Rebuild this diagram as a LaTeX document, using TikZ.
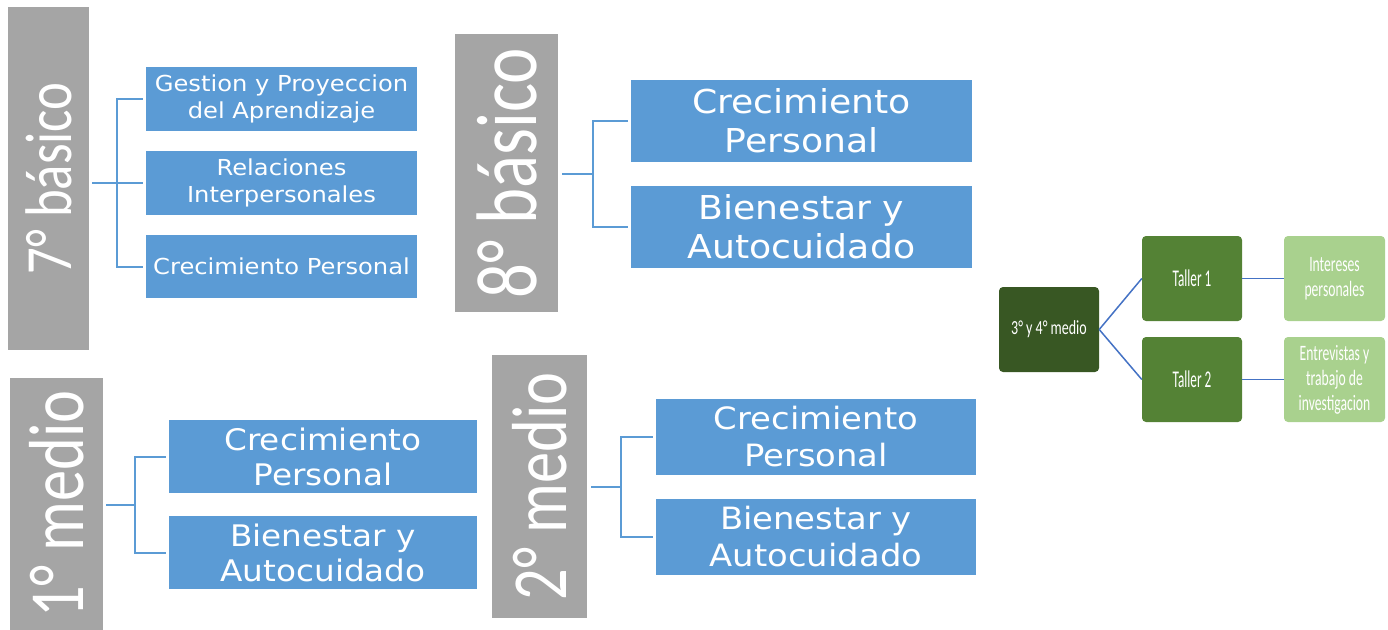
\documentclass[tikz,border=0pt]{standalone}
\usepackage{fontspec}
\newfontfamily\bluefont{DejaVu Sans}[FakeStretch=1.1]
\newfontfamily\grayfont{Carlito}[FakeStretch=0.8]
\newfontfamily\gdfont{Carlito}[FakeStretch=0.7]
\newfontfamily\gmfont{Carlito}[FakeStretch=0.55]
\newfontfamily\glfont{Carlito}[FakeStretch=0.62]
\definecolor{grayc}{HTML}{A5A5A5}
\definecolor{bluec}{HTML}{5B9BD5}
\definecolor{dgreen}{HTML}{385723}
\definecolor{mgreen}{HTML}{548235}
\definecolor{lgreen}{HTML}{A9D18E}
\definecolor{linec}{HTML}{4472C4}
\begin{document}
\begin{tikzpicture}[x=1pt,y=-1pt,
  graybox/.style={fill=grayc, text=white, inner sep=0pt, rotate=90},
  bluebox/.style={fill=bluec, text=white, inner sep=0pt, align=center},
  conn/.style={draw=bluec, line width=2pt},
  gconn/.style={draw=linec, line width=1.5pt},
  greenbox/.style={rounded corners=4pt, inner sep=0pt, text=white, align=center, minimum height=85pt},
  f7/.style={font=\bluefont\fontsize{22}{27}\selectfont},
  f8/.style={font=\bluefont\fontsize{32.9}{39}\selectfont},
  f1/.style={font=\bluefont\fontsize{29.7}{35}\selectfont},
  f2/.style={font=\bluefont\fontsize{30.75}{37}\selectfont}
]
\useasboundingbox (0,0) rectangle (1388,629);

% 7 basico
\node[graybox, minimum width=343pt, minimum height=81pt, font=\grayfont\fontsize{66}{70}\selectfont] (g7) at (48.5,178.5) {7° básico};
\node[bluebox, f7, minimum width=271pt, minimum height=64pt] (b71) at (281.5,99) {Gestion y Proyeccion\\del Aprendizaje};
\node[bluebox, f7, minimum width=271pt, minimum height=64pt] (b72) at (281.5,183) {Relaciones\\Interpersonales};
\node[bluebox, f7, minimum width=271pt, minimum height=63pt] (b73) at (281.5,266.5) {Crecimiento Personal};
\coordinate (j7) at (117,183);
\draw[conn, shorten <=3pt] (g7.south |- j7) -- (j7);
\draw[conn, shorten >=3pt] (j7) |- (b71.west);
\draw[conn, shorten >=3pt] (j7) -- (b72.west);
\draw[conn, shorten >=3pt] (j7) |- (b73.west);

% 8 basico
\node[graybox, minimum width=278pt, minimum height=103pt, font=\grayfont\fontsize{86}{90}\selectfont] (g8) at (506.5,173) {8° básico};
\node[bluebox, f8, minimum width=341pt, minimum height=82pt] (b81) at (801.5,121) {Crecimiento\\Personal};
\node[bluebox, f8, minimum width=341pt, minimum height=82pt] (b82) at (801.5,227) {Bienestar y\\Autocuidado};
\coordinate (j8) at (593,174);
\draw[conn, shorten <=4pt] (g8.south |- j8) -- (j8);
\draw[conn, shorten >=3pt] (j8) |- (b81.west);
\draw[conn, shorten >=3pt] (j8) |- (b82.west);

% 1 medio
\node[graybox, minimum width=252pt, minimum height=93pt, font=\grayfont\fontsize{78}{82}\selectfont] (g1) at (56.5,504) {1° medio};
\node[bluebox, f1, minimum width=308pt, minimum height=73pt] (b11) at (323,456.5) {Crecimiento\\Personal};
\node[bluebox, f1, minimum width=308pt, minimum height=73pt] (b12) at (323,552.5) {Bienestar y\\Autocuidado};
\coordinate (j1) at (135,505);
\draw[conn, shorten <=3pt] (g1.south |- j1) -- (j1);
\draw[conn, shorten >=3pt] (j1) |- (b11.west);
\draw[conn, shorten >=3pt] (j1) |- (b12.west);

% 2 medio
\node[graybox, minimum width=263pt, minimum height=95pt, font=\grayfont\fontsize{78}{82}\selectfont] (g2) at (539.5,486.5) {2° medio};
\node[bluebox, f2, minimum width=320pt, minimum height=76pt] (b21) at (816,437) {Crecimiento\\Personal};
\node[bluebox, f2, minimum width=320pt, minimum height=76pt] (b22) at (816,537) {Bienestar y\\Autocuidado};
\coordinate (j2) at (621,487);
\draw[conn, shorten <=4pt] (g2.south |- j2) -- (j2);
\draw[conn, shorten >=3pt] (j2) |- (b21.west);
\draw[conn, shorten >=3pt] (j2) |- (b22.west);

% 3 y 4 medio
\node[greenbox, fill=dgreen, minimum width=100pt, font=\gdfont\fontsize{20}{24}\selectfont] (d34) at (1049,329.5) {3° y 4° medio};
\node[greenbox, fill=mgreen, minimum width=100pt, font=\gmfont\fontsize{24}{26}\selectfont] (t1) at (1192,278.5) {Taller 1};
\node[greenbox, fill=mgreen, minimum width=100pt, font=\gmfont\fontsize{24}{26}\selectfont] (t2) at (1192,379.5) {Taller 2};
\node[greenbox, fill=lgreen, minimum width=101pt, font=\glfont\fontsize{22}{25}\selectfont] (l1) at (1334.5,278.5) {Intereses\\personales};
\node[greenbox, fill=lgreen, minimum width=101pt, font=\glfont\fontsize{22}{25}\selectfont] (l2) at (1334.5,379.5) {Entrevistas y\\trabajo de\\investigacion};
\draw[gconn] (d34.east) -- (t1.west);
\draw[gconn] (d34.east) -- (t2.west);
\draw[gconn] (t1.east) -- (l1.west);
\draw[gconn] (t2.east) -- (l2.west);
\end{tikzpicture}
\end{document}
